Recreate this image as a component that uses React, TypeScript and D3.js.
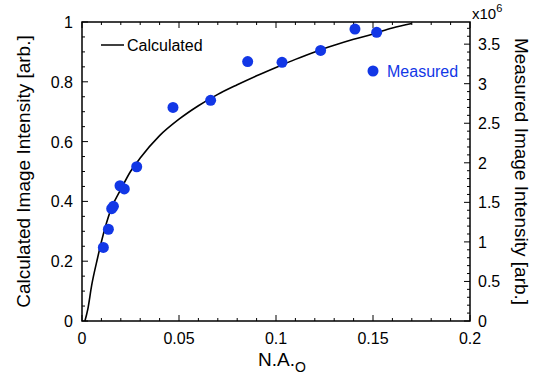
import { useEffect, useRef } from 'react';
import * as d3 from 'd3';

// Calculated curve (N.A.o vs calculated intensity, left axis)
const calcNA = [0.0015, 0.003, 0.005, 0.008, 0.01, 0.0125, 0.015, 0.02, 0.025, 0.03, 0.04, 0.05, 0.06, 0.07, 0.08, 0.09, 0.1, 0.11, 0.12, 0.13, 0.14, 0.15, 0.16, 0.17];
const calcI = [0, 0.04, 0.12, 0.21, 0.265, 0.325, 0.375, 0.44, 0.5, 0.545, 0.62, 0.675, 0.72, 0.758, 0.79, 0.82, 0.848, 0.875, 0.9, 0.922, 0.942, 0.96, 0.98, 0.995];

// Measured points (right axis, x10^6)
const measNA = [0.011, 0.0136, 0.0153, 0.0162, 0.0196, 0.0218, 0.0282, 0.0469, 0.0663, 0.0854, 0.1031, 0.123, 0.1407, 0.1519];
const measI = [0.93, 1.16, 1.42, 1.45, 1.71, 1.67, 1.95, 2.7, 2.79, 3.28, 3.27, 3.42, 3.69, 3.65];

const xTicks = [0, 0.05, 0.1, 0.15, 0.2];
const yLeftTicks = [0, 0.2, 0.4, 0.6, 0.8, 1];
const yRightTicks = [0, 0.5, 1, 1.5, 2, 2.5, 3, 3.5];

const BLUE = '#1237e6';
const FONT = '"Liberation Sans", Arial, sans-serif';

const App = () => {
  const ref = useRef<SVGSVGElement>(null);

  useEffect(() => {
    const svg = d3.select(ref.current);
    svg.selectAll('*').remove();

    const left = 82, right = 470, top = 22, bottom = 321;
    const x = d3.scaleLinear().domain([0, 0.2]).range([left, right]);
    const yL = d3.scaleLinear().domain([0, 1]).range([bottom, top]);
    const yR = d3.scaleLinear().domain([0, 3.78]).range([bottom, top]);

    const fmt = (d: number) => String(+d.toFixed(2));

    // frame
    svg.append('rect')
      .attr('x', left).attr('y', top)
      .attr('width', right - left).attr('height', bottom - top)
      .attr('fill', 'none').attr('stroke', '#000').attr('stroke-width', 1.5);

    const ticks = svg.append('g').attr('stroke', '#000').attr('stroke-width', 1);

    // x ticks, bottom and top, pointing inward
    d3.range(0, 0.2001, 0.01).forEach((v, i) => {
      const len = i % 5 === 0 ? 6 : 3;
      const px = x(v);
      ticks.append('line').attr('x1', px).attr('x2', px).attr('y1', bottom).attr('y2', bottom - len);
      ticks.append('line').attr('x1', px).attr('x2', px).attr('y1', top).attr('y2', top + len);
    });

    // left ticks
    d3.range(0, 1.0001, 0.05).forEach((v, i) => {
      const len = i % 4 === 0 ? 6 : 3;
      const py = yL(v);
      ticks.append('line').attr('x1', left).attr('x2', left + len).attr('y1', py).attr('y2', py);
    });

    // right ticks
    d3.range(0, 3.7001, 0.1).forEach((v, i) => {
      const len = i % 5 === 0 ? 6 : 3;
      const py = yR(v);
      ticks.append('line').attr('x1', right).attr('x2', right - len).attr('y1', py).attr('y2', py);
    });

    const labels = svg.append('g')
      .style('font-family', FONT).style('font-size', '16px').attr('fill', '#000');

    xTicks.forEach(v => {
      labels.append('text').attr('x', x(v)).attr('y', bottom + 23)
        .attr('text-anchor', 'middle').text(fmt(v));
    });
    yLeftTicks.forEach(v => {
      labels.append('text').attr('x', left - 9).attr('y', yL(v) + 6)
        .attr('text-anchor', 'end').text(fmt(v));
    });
    yRightTicks.forEach(v => {
      labels.append('text').attr('x', right + 8).attr('y', yR(v) + 6)
        .attr('text-anchor', 'start').text(fmt(v));
    });

    // x10^6
    const exp = labels.append('text').attr('x', right + 2).attr('y', 19).style('font-size', '15px');
    exp.append('tspan').text('x10');
    exp.append('tspan').attr('dy', -7).style('font-size', '11px').text('6');

    // axis titles
    const titles = svg.append('g')
      .style('font-family', FONT).style('font-size', '19px').attr('fill', '#000');

    const xt = titles.append('text').attr('x', (left + right) / 2 + 6).attr('y', 366)
      .attr('text-anchor', 'middle');
    xt.append('tspan').text('N.A.');
    xt.append('tspan').attr('dy', 6).style('font-size', '14px').text('O');

    titles.append('text')
      .attr('transform', `translate(30,${(top + bottom) / 2}) rotate(-90)`)
      .attr('text-anchor', 'middle').text('Calculated Image Intensity [arb.]');

    titles.append('text')
      .attr('transform', `translate(515,${(top + bottom) / 2}) rotate(90)`)
      .attr('text-anchor', 'middle').text('Measured Image Intensity [arb.]');

    // calculated curve
    const calc = calcNA.map((v, i) => [v, calcI[i]] as [number, number]);
    svg.append('path')
      .datum(calc)
      .attr('fill', 'none').attr('stroke', '#000').attr('stroke-width', 1.6)
      .attr('d', d3.line<[number, number]>()
        .x(d => x(d[0])).y(d => yL(d[1]))
        .curve(d3.curveMonotoneX));

    // measured points
    svg.append('g').selectAll('circle')
      .data(measNA.map((v, i) => [v, measI[i]]))
      .join('circle')
      .attr('cx', d => x(d[0])).attr('cy', d => yR(d[1]))
      .attr('r', 5.5).attr('fill', BLUE);

    // legend
    svg.append('line').attr('x1', 101).attr('x2', 124).attr('y1', 45).attr('y2', 45)
      .attr('stroke', '#000').attr('stroke-width', 1.5);
    svg.append('text').attr('x', 127).attr('y', 51)
      .style('font-family', FONT).style('font-size', '16px').text('Calculated');

    svg.append('circle').attr('cx', 373).attr('cy', 71).attr('r', 5.5).attr('fill', BLUE);
    svg.append('text').attr('x', 387).attr('y', 77)
      .style('font-family', FONT).style('font-size', '16px').attr('fill', BLUE).text('Measured');
  }, []);

  return (
    <svg ref={ref} width={541} height={380}
      style={{ position: 'absolute', left: 0, top: 0, background: '#fff' }} />
  );
};

export default App;
